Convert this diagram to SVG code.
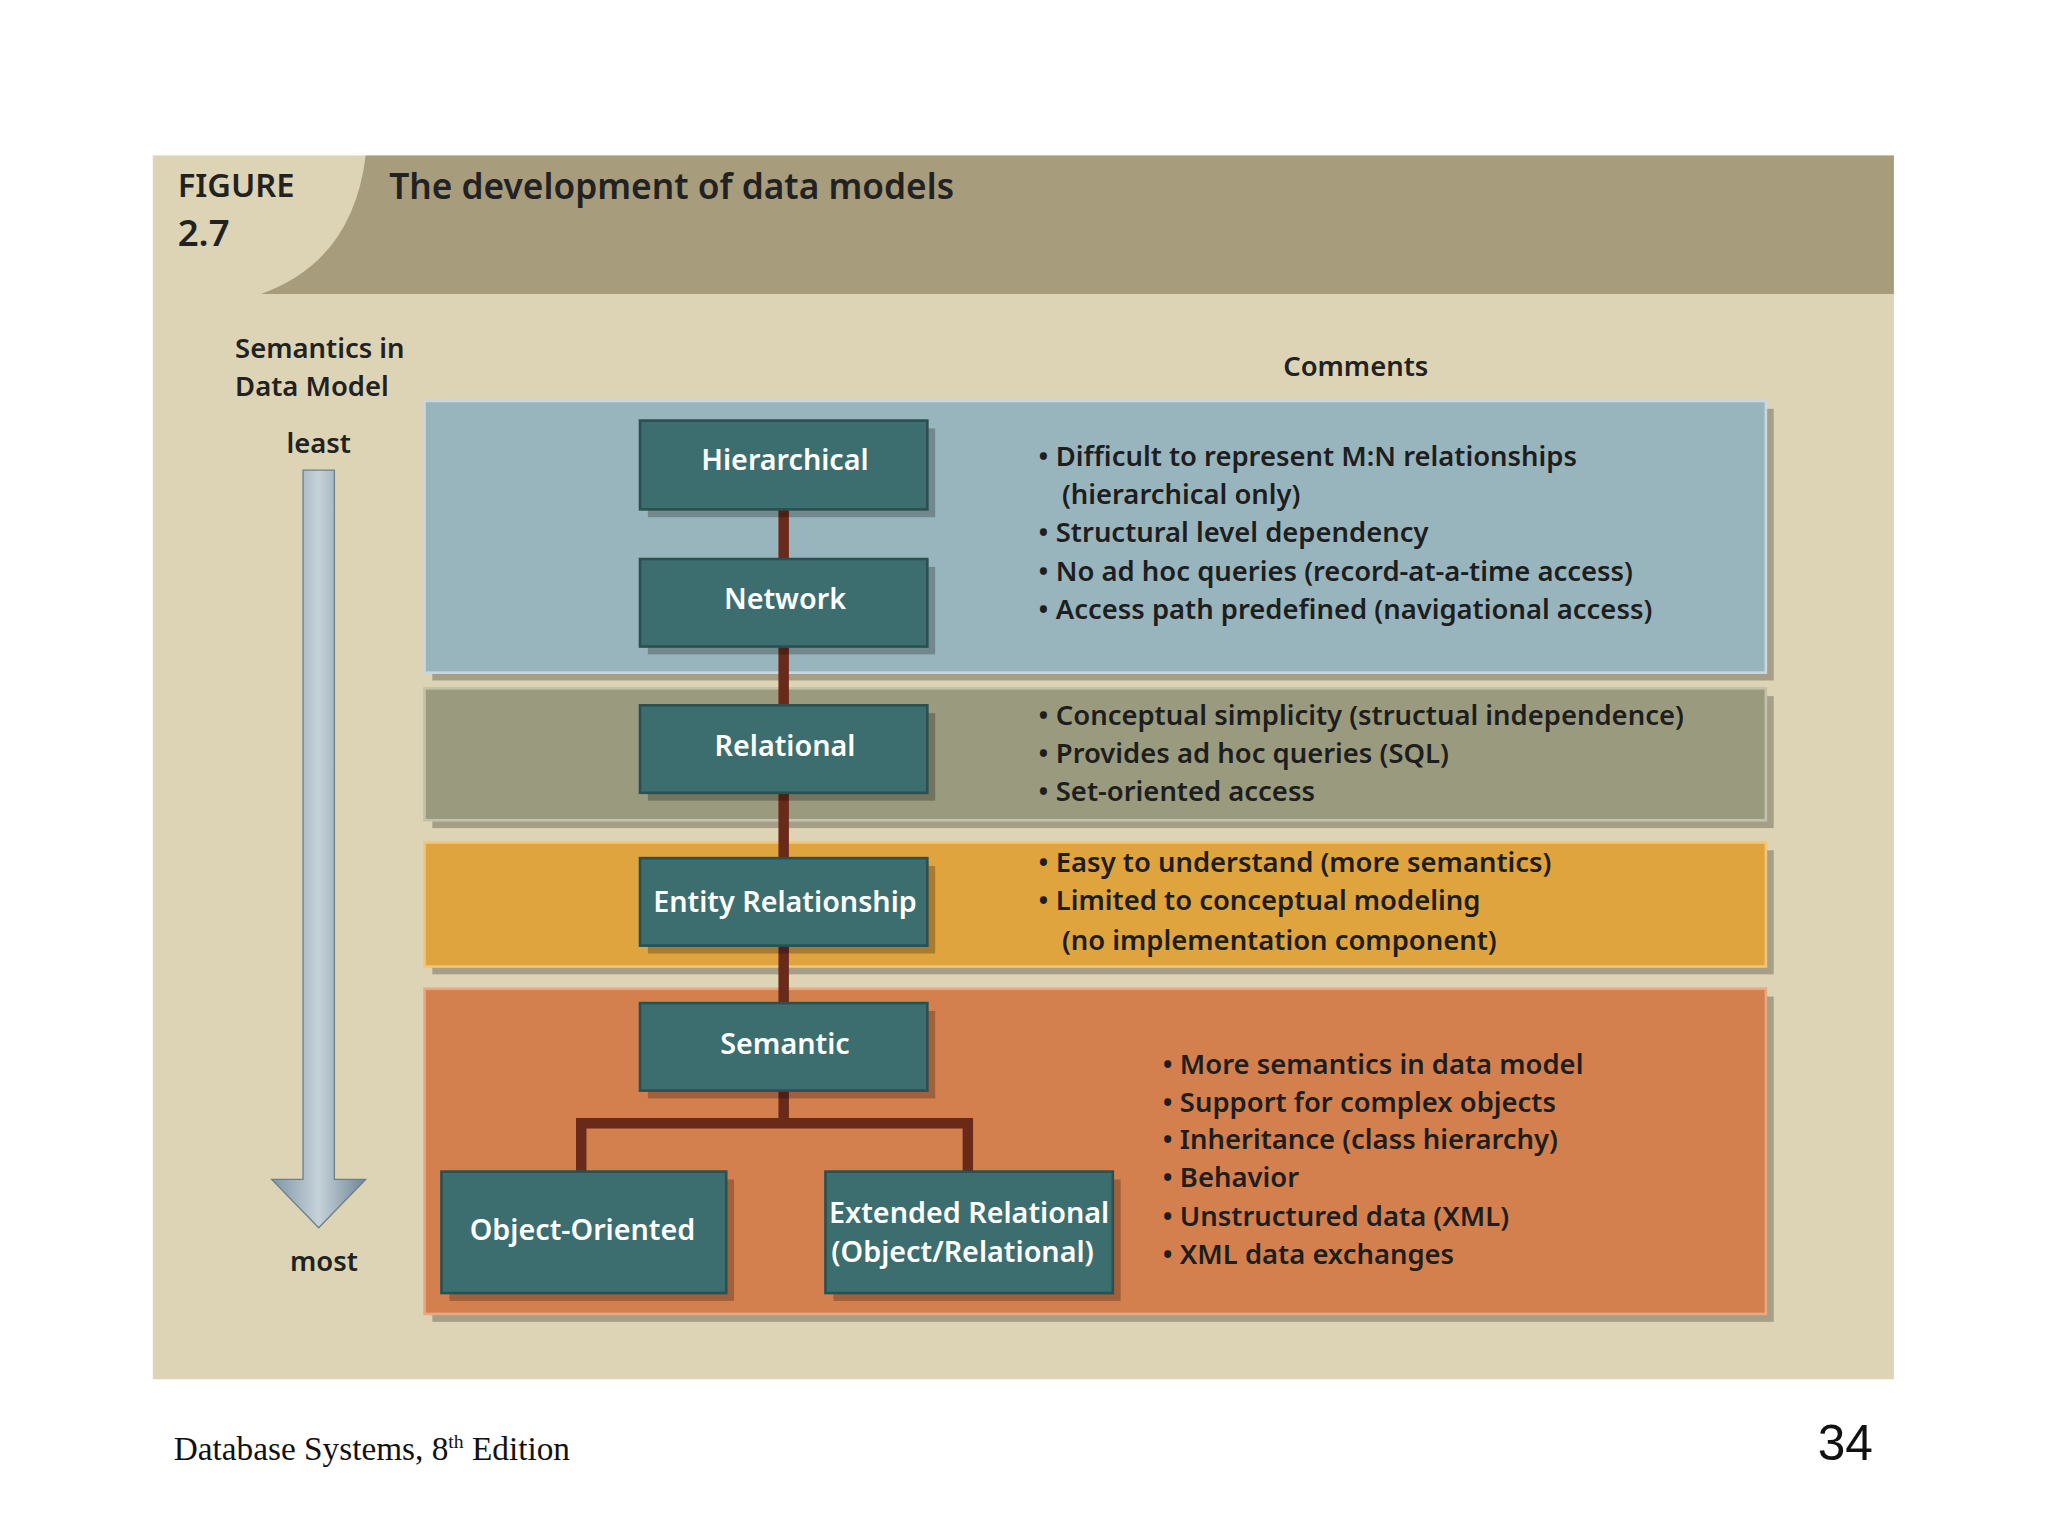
<svg xmlns="http://www.w3.org/2000/svg" width="2048" height="1536" viewBox="0 0 2048 1536">
<defs>
<style>
.f{font-family:"Noto Sans","DejaVu Sans",sans-serif;font-weight:600}
.c{font-size:21px;fill:#1e1e1e}
.bt{font-size:22px;fill:#ffffff;text-anchor:middle}
.box{fill:#3c6e70;stroke:#2a5052;stroke-width:2}
.sh{fill:#000;opacity:0.25}
.ln{stroke:#6a2a1a;stroke-width:8;fill:none}
</style>
<linearGradient id="ag" x1="0" y1="0" x2="1" y2="0">
<stop offset="0" stop-color="#7f95a4"/><stop offset="0.5" stop-color="#c6d2da"/><stop offset="1" stop-color="#6f8594"/>
</linearGradient>
</defs>
<rect width="2048" height="1536" fill="#ffffff"/>
<g transform="scale(1.30612)">
<rect x="117" y="119" width="1333" height="937" fill="#ddd4b6"/>
<path d="M280 119 H1450 V225 H200 Q270 200 280 119 Z" fill="#a79c7c"/>
<text class="f" x="136" y="151" font-size="25" fill="#222">FIGURE</text>
<text class="f" x="136" y="188" font-size="28" fill="#222">2.7</text>
<text class="f" x="298" y="152" font-size="27" fill="#222">The development of data models</text>
<text class="f" x="180" y="274" font-size="21" fill="#222">Semantics in</text>
<text class="f" x="180" y="303" font-size="21" fill="#222">Data Model</text>
<text class="f" x="1038" y="288" font-size="21" fill="#222" text-anchor="middle">Comments</text>
<text class="f" x="244" y="347" font-size="21" fill="#222" text-anchor="middle">least</text>
<text class="f" x="248" y="973" font-size="21" fill="#222" text-anchor="middle">most</text>
<g id="arrow">
<path d="M232 360 H256 V903 H280 L244 940 L208 903 H232 Z" fill="url(#ag)" stroke="#6d7f8c" stroke-width="1"/>
</g>
<g id="panels">
<rect x="331" y="313" width="1027" height="208" class="sh"/>
<rect x="325" y="307" width="1027" height="208" fill="#98b5be" stroke="#c9d8dc" stroke-width="2"/>
<rect x="331" y="533" width="1027" height="101" class="sh"/>
<rect x="325" y="527" width="1027" height="101" fill="#9a9b7e" stroke="#c2c2a8" stroke-width="2"/>
<rect x="331" y="651" width="1027" height="95" class="sh"/>
<rect x="325" y="645" width="1027" height="95" fill="#e0a43e" stroke="#efc67a" stroke-width="2"/>
<rect x="331" y="763" width="1027" height="249" class="sh"/>
<rect x="325" y="757" width="1027" height="249" fill="#d4804e" stroke="#e7a882" stroke-width="2"/>
</g>
<g id="connectors">
<path class="ln" d="M600 390 V428 M600 495 V540 M600 607 V657 M600 724 V768 M600 835 V860"/>
<path class="ln" d="M445 897 V860 H741 V897"/>
</g>
<g id="n-hier"><rect x="496" y="328" width="220" height="68" class="sh"/><rect x="490" y="322" width="220" height="68" class="box"/><text class="f bt" x="601" y="360">Hierarchical</text></g>
<g id="n-net"><rect x="496" y="434" width="220" height="67" class="sh"/><rect x="490" y="428" width="220" height="67" class="box"/><text class="f bt" x="601" y="466">Network</text></g>
<g id="n-rel"><rect x="496" y="546" width="220" height="67" class="sh"/><rect x="490" y="540" width="220" height="67" class="box"/><text class="f bt" x="601" y="579">Relational</text></g>
<g id="n-er"><rect x="496" y="663" width="220" height="67" class="sh"/><rect x="490" y="657" width="220" height="67" class="box"/><text class="f bt" x="601" y="698" font-size="21">Entity Relationship</text></g>
<g id="n-sem"><rect x="496" y="774" width="220" height="67" class="sh"/><rect x="490" y="768" width="220" height="67" class="box"/><text class="f bt" x="601" y="807">Semantic</text></g>
<g id="n-oo"><rect x="344" y="903" width="218" height="93" class="sh"/><rect x="338" y="897" width="218" height="93" class="box"/><text class="f bt" x="446" y="949">Object-Oriented</text></g>
<g id="n-ext"><rect x="638" y="903" width="220" height="93" class="sh"/><rect x="632" y="897" width="220" height="93" class="box"/><text class="f bt" x="742" y="936" font-size="21">Extended Relational</text><text class="f bt" x="737" y="966" font-size="21">(Object/Relational)</text></g>
<g id="comments" class="f c">
<text x="795" y="357">• Difficult to represent M:N relationships</text>
<text x="813" y="386">(hierarchical only)</text>
<text x="795" y="415">• Structural level dependency</text>
<text x="795" y="445">• No ad hoc queries (record-at-a-time access)</text>
<text x="795" y="474">• Access path predefined (navigational access)</text>
<text x="795" y="555">• Conceptual simplicity (structual independence)</text>
<text x="795" y="584">• Provides ad hoc queries (SQL)</text>
<text x="795" y="613">• Set-oriented access</text>
<text x="795" y="668">• Easy to understand (more semantics)</text>
<text x="795" y="697">• Limited to conceptual modeling</text>
<text x="813" y="727">(no implementation component)</text>
<text x="890" y="822">• More semantics in data model</text>
<text x="890" y="851">• Support for complex objects</text>
<text x="890" y="880">• Inheritance (class hierarchy)</text>
<text x="890" y="909">• Behavior</text>
<text x="890" y="939">• Unstructured data (XML)</text>
<text x="890" y="968">• XML data exchanges</text>
</g>
<text x="133" y="1118" font-family="Liberation Serif,serif" font-size="25.5" fill="#111">Database Systems, 8<tspan font-size="15" dy="-9">th</tspan><tspan dy="9"> Edition</tspan></text>
<text x="1434" y="1118" font-family="Liberation Sans,sans-serif" font-size="38" fill="#111" text-anchor="end">34</text>
</g>
</svg>
